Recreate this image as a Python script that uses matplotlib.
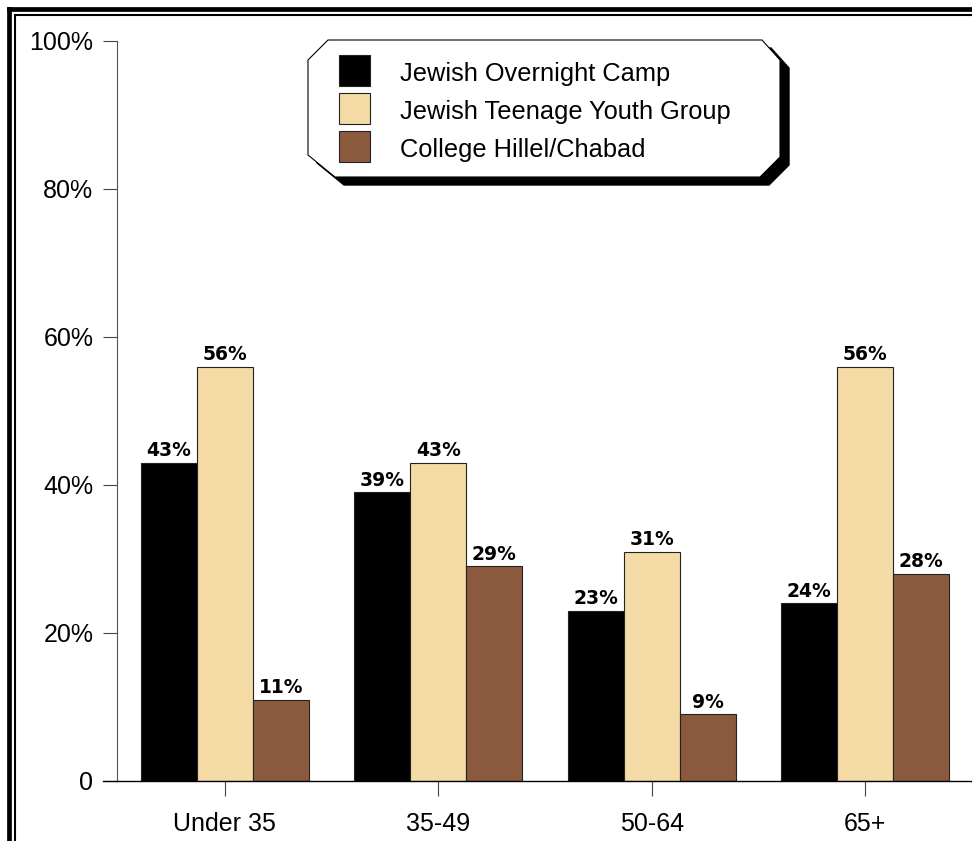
import numpy as np
import matplotlib
matplotlib.use("Agg")
import matplotlib.pyplot as plt
from matplotlib.patches import Polygon, Rectangle
from matplotlib.lines import Line2D

# ===== DATA ==========================================
categories = ["Under 35", "35-49", "50-64", "65+"]
series = ["Jewish Overnight Camp", "Jewish Teenage Youth Group", "College Hillel/Chabad"]
camp = [43, 39, 23, 24]
youth = [56, 43, 31, 56]
hillel = [11, 29, 9, 28]
colors = ["#000000", "#F4DBA5", "#8B5A3E"]

W, H = 972, 841

plt.rcParams["font.family"] = ["Liberation Sans", "DejaVu Sans"]

fig = plt.figure(figsize=(W / 100, H / 100), dpi=100)
ax = fig.add_axes([117 / W, 1 - 781 / H, 1 - 117 / W, (781 - 41) / H])


def fx(px):
    return px / W


def fy(py):
    return 1 - py / H


# ===== BARS ==========================================
x = np.arange(len(categories))
width = 0.262
for i, (vals, col) in enumerate(zip([camp, youth, hillel], colors)):
    pos = x + (i - 1) * width
    bars = ax.bar(pos, vals, width, color=col, edgecolor="#222222", linewidth=0.8, zorder=2)
    for b, v in zip(bars, vals):
        ax.annotate(f"{v}%", (b.get_x() + b.get_width() / 2, v), xytext=(0, 2),
                    textcoords="offset points", ha="center", va="bottom",
                    fontsize=13.5, fontweight="bold", family="DejaVu Sans")

ax.set_xlim(-0.505, 3.5)
ax.set_ylim(0, 100)
ax.set_yticks([0, 20, 40, 60, 80, 100])
ax.set_yticklabels(["0", "20%", "40%", "60%", "80%", "100%"])
ax.set_xticks(x)
ax.set_xticklabels(categories)
ax.tick_params(axis="y", length=10, width=0.8, color="#444444", labelsize=18, pad=7)
ax.tick_params(axis="x", length=11, width=0.8, color="#444444", labelsize=18, pad=11)
for s in ["top", "right"]:
    ax.spines[s].set_visible(False)
ax.spines["left"].set_color("#555555")
ax.spines["left"].set_linewidth(0.8)
ax.spines["bottom"].set_linewidth(1.0)
# zero line extends left like a tick
fig.add_artist(Line2D([fx(103), fx(117)], [fy(781), fy(781)], color="black", lw=1.0))

# ===== LEGEND ========================================
box = [(328, 40), (762, 40), (780, 60), (780, 157), (760, 177),
       (335, 177), (308, 155), (308, 60)]
shadow = [(px + 9, py + 8) for px, py in box]
fig.add_artist(Polygon([(fx(a), fy(b)) for a, b in shadow], closed=True,
                       facecolor="black", edgecolor="black", zorder=5))
fig.add_artist(Polygon([(fx(a), fy(b)) for a, b in box], closed=True,
                       facecolor="white", edgecolor="black", lw=0.8, zorder=6))
for i, (name, col) in enumerate(zip(series, colors)):
    top = 55 + i * 38
    fig.add_artist(Rectangle((fx(339), fy(top + 31)), 31 / W, 31 / H,
                             facecolor=col, edgecolor="#222222", lw=0.8, zorder=7))
    fig.text(fx(400), fy(top + 19), name, fontsize=18.3, va="center", ha="left", zorder=8)

# ===== FRAME =========================================
fig.add_artist(Line2D([fx(9), fx(9)], [fy(9), 0], color="black", lw=3.4))
fig.add_artist(Line2D([fx(9), 1], [fy(9), fy(9)], color="black", lw=3.4))
fig.add_artist(Line2D([fx(14.5), fx(14.5)], [fy(14.5), 0], color="black", lw=1.5))
fig.add_artist(Line2D([fx(14.5), 1], [fy(14.5), fy(14.5)], color="black", lw=1.5))

fig.savefig("out.png", dpi=100)
